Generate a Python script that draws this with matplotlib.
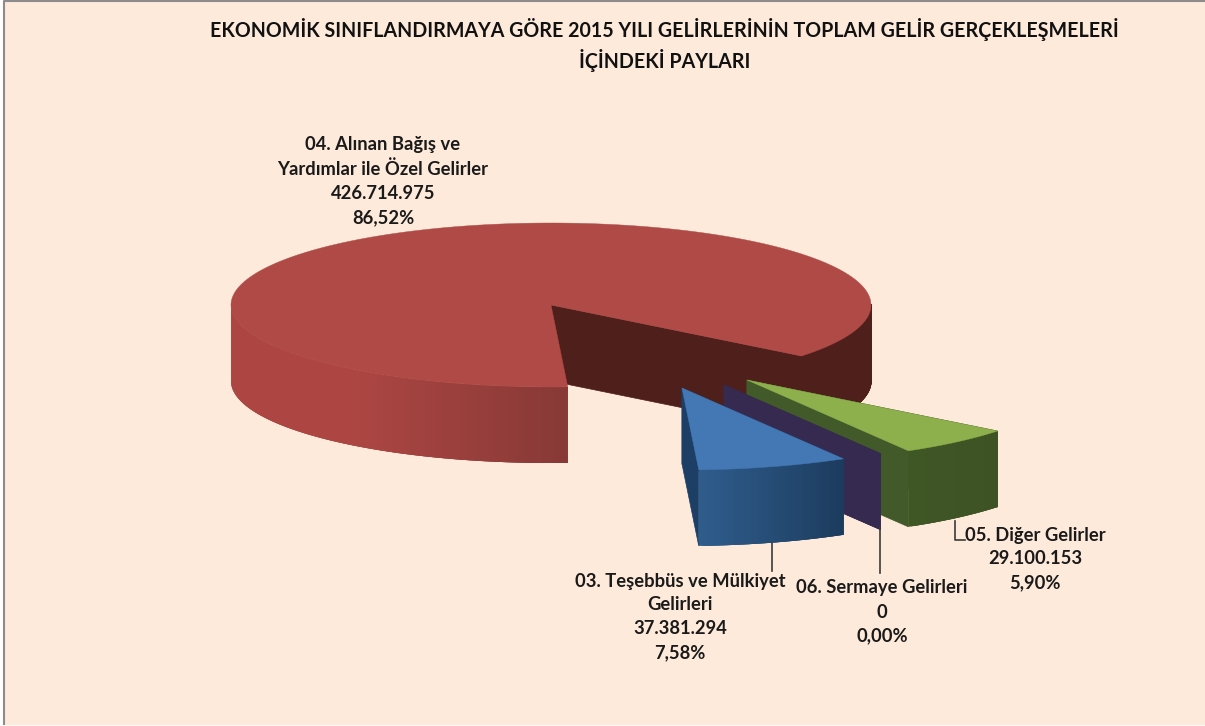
import numpy as np
import matplotlib
matplotlib.use("Agg")
import matplotlib.pyplot as plt
from matplotlib.colors import LinearSegmentedColormap

title = "EKONOMİK SINIFLANDIRMAYA GÖRE 2015 YILI GELİRLERİNİN TOPLAM GELİR GERÇEKLEŞMELERİ\nİÇİNDEKİ PAYLARI"
categories = ["03. Teşebbüs ve Mülkiyet\nGelirleri", "06. Sermaye Gelirleri", "05. Diğer Gelirler", "04. Alınan Bağış ve\nYardımlar ile Özel Gelirler"]
amounts = [37381294, 0, 29100153, 426714975]

# pie layout, in pixels of the 1205x726 picture
cx, cy, rx, ry, depth = 551, 305, 320, 82, 76
start_angle = -87
offsets = [(131, 83), (173, 80), (196, 75), (0, 0)]
radius_scale = [1, 0.97, 1, 1]
top_colors = ["#4478b4", "#362a50", "#8db04c", "#af4a46"]
side_colors = ["#1d3f66", "#362a50", "#42592a", "#4f1f1c"]
wall_from = ["#2f5c8c", "#362a50", "#3f5625", "#ad4643"]
wall_to = ["#1c3c5e", "#362a50", "#3e5324", "#873936"]
label_pos = [(680, 617), (882, 612), (1035, 559), (383, 181)]
leaders = [[(772, 543), (772, 571)], [(880, 527), (880, 573)], [(955, 521), (955, 540), (965, 540)]]

plt.rcParams["font.family"] = ["Lato", "DejaVu Sans"]
fig = plt.figure(figsize=(12.05, 7.26), dpi=100, facecolor="white")
ax = fig.add_axes([0, 0, 1, 1])
ax.set_xlim(0, 1205)
ax.set_ylim(726, 0)
ax.axis("off")
ax.fill([5, 1205, 1205, 5], [2, 2, 724, 724], color="#fdeadb", zorder=0)
ax.plot([4, 4, 1205], [724, 1, 1], color="#8c8c8c", lw=1.5, zorder=1)


def point(a, ox, oy, s=1):
    t = np.radians(a)
    return cx + ox + s * rx * np.cos(t), cy + oy - s * ry * np.sin(t)


def wall(seg, ox, oy, s, color_of, z, lw=0):
    # each strip runs under the next one, so no seams show
    for k in range(len(seg) - 1):
        x0, y0 = point(seg[k], ox, oy, s)
        x1, y1 = point(seg[min(k + 3, len(seg) - 1)], ox, oy, s)
        ax.fill([x0, x1, x1, x0], [y0, y1, y1 + depth, y0 + depth], color=color_of(k, x0), lw=lw, zorder=z)


def draw_slice(i, a0, a1, z):
    ox, oy = offsets[i]
    s = radius_scale[i]
    ax0, ay0 = cx + ox, cy + oy
    arc = np.linspace(a0, a1, max(int(a1 - a0) * 2, 2))
    # cut faces, the far one first
    if i == 3:
        cut_angles = (a0,)
    else:
        cut_angles = (a1, a0)
    for a in cut_angles:
        x, y = point(a, ox, oy, s)
        ax.fill([ax0, x, x, ax0], [ay0, y, y + depth, ay0 + depth],
                color=side_colors[i], lw=0.5, zorder=z)
    cmap = LinearSegmentedColormap.from_list("w", [wall_from[i], wall_to[i]])
    front = arc[np.sin(np.radians(arc)) < 0.02]
    if i == 3:
        # right of the gap the wall is in shadow, left of it shaded by x
        back = front[front < 90]
        shade = front[front >= 90]
        wall(back, ox, oy, s, lambda k, x: side_colors[i], z, lw=0.8)
        wall(shade, ox, oy, s, lambda k, x: cmap(max(0, (x - 350) / 216)), z)
    else:
        n = max(len(front) - 2, 1)
        wall(front, ox, oy, s, lambda k, x: cmap(k / n), z)
    xs, ys = point(arc, ox, oy, s)
    ax.fill(np.r_[ax0, xs], np.r_[ay0, ys], color=top_colors[i], lw=0.3, zorder=z + 0.5)


total = sum(amounts)
shares = [v / total * 360 for v in amounts]
edges = start_angle + np.r_[0, np.cumsum(shares)]
for i, z in ((3, 2), (2, 3), (1, 4), (0, 5)):
    draw_slice(i, edges[i], edges[i + 1], z)

for pts in leaders:
    ax.plot(*zip(*pts), color="#3a3a3a", lw=1.2, zorder=6)

for name, v, (x, y) in zip(categories, amounts, label_pos):
    money = f"{v:,}".replace(",", ".")
    pct = f"{v / total * 100:.2f}%".replace(".", ",")
    ax.text(x, y, f"{name}\n{money}\n{pct}", ha="center", va="center", fontsize=13.2, fontweight="bold",
            color="#1a1a1a", linespacing=1.5, zorder=7)

ax.text(664.5, 45, title, ha="center", va="center", fontsize=14.15, fontweight="bold",
        color="#111111", linespacing=1.4, zorder=7)

fig.savefig("out.png", dpi=100, facecolor=fig.get_facecolor())
